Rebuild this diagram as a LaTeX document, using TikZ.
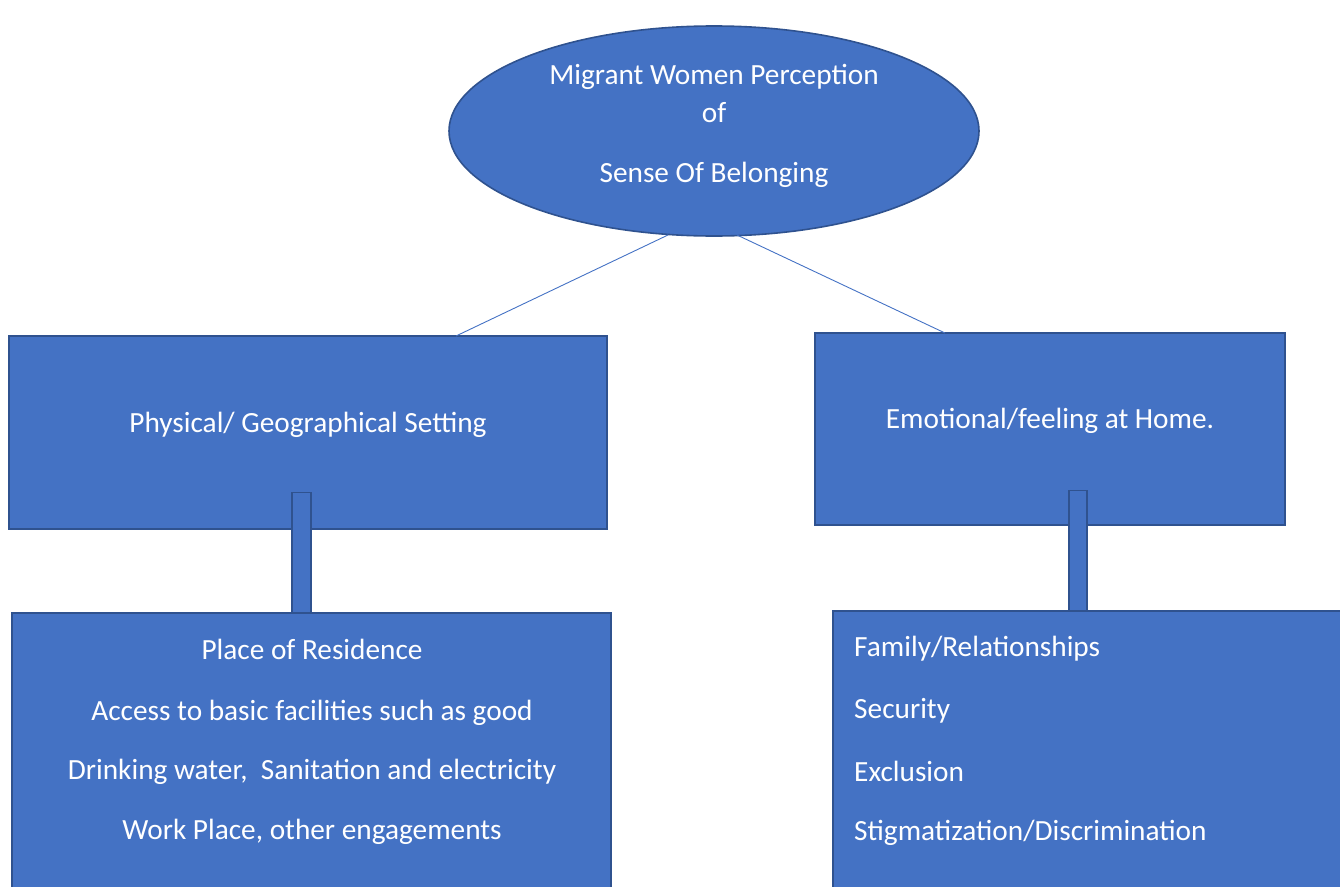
\documentclass[tikz,border=0pt]{standalone}
\usepackage{fontspec}
\setmainfont{Carlito}
\usetikzlibrary{shapes.geometric}
\definecolor{boxfill}{HTML}{4472C4}
\definecolor{boxline}{HTML}{2F528F}
\begin{document}
\begin{tikzpicture}[x=1pt,y=-1pt,
  shapebox/.style={draw=boxline,fill=boxfill,line width=1.6pt,inner sep=0pt,outer sep=0pt},
  txt/.style={text=white,font=\fontsize{29.3}{34}\selectfont,inner sep=0pt,anchor=base},
  ltxt/.style={text=white,font=\fontsize{29.3}{34}\selectfont,inner sep=0pt,anchor=base west},
  link/.style={draw=boxfill,line width=0.9pt}]
\useasboundingbox (0,0) rectangle (1340,886);
\clip (0,0) rectangle (1340,886);
% shapes
\node[shapebox,ellipse,minimum width=530pt,minimum height=210pt] (top) at (714,131) {};
\node[shapebox,rectangle,minimum width=598pt,minimum height=193pt] (phys) at (308,432.5) {};
\node[shapebox,rectangle,minimum width=470pt,minimum height=192pt] (emo) at (1050,429) {};
\coordinate (tl) at (668,235);
\coordinate (tr) at (737,235);
\coordinate (pl) at (456,336);
\coordinate (pr) at (945,333);
\draw[link] (tl) -- (pl);
\draw[link] (tr) -- (pr);
\node[shapebox,rectangle,minimum width=19pt,minimum height=121pt] (barl) at (301.5,553) {};
\node[shapebox,rectangle,minimum width=18pt,minimum height=121pt] (barr) at (1078,551) {};
\node[shapebox,rectangle,minimum width=599pt,minimum height=300pt] (res) at (311.5,763) {};
\node[shapebox,rectangle,minimum width=540pt,minimum height=300pt] (fam) at (1103,761) {};
% texts
\node[txt] (t1) at (714,84) {Migrant Women Perception};
\node[txt] (t2) at (714,122) {of};
\node[txt] (t3) at (714,182) {Sense Of Belonging};
\node[txt] (t4) at (308,432) {Physical/ Geographical Setting};
\node[txt] (t5) at (1050,428) {Emotional/feeling at Home.};
\node[txt] (t6) at (312,659) {Place of Residence};
\node[txt] (t7) at (312,720) {Access to basic facilities such as good};
\node[txt] (t8) at (312,779) {Drinking water,\ \ Sanitation and electricity};
\node[txt] (t9) at (312,839) {Work Place, other engagements};
\node[ltxt] (u1) at (854,656) {Family/Relationships};
\node[ltxt] (u2) at (854,718) {Security};
\node[ltxt] (u3) at (854,781) {Exclusion};
\node[ltxt] (u4) at (854,840) {Stigmatization/Discrimination};
\end{tikzpicture}
\end{document}
